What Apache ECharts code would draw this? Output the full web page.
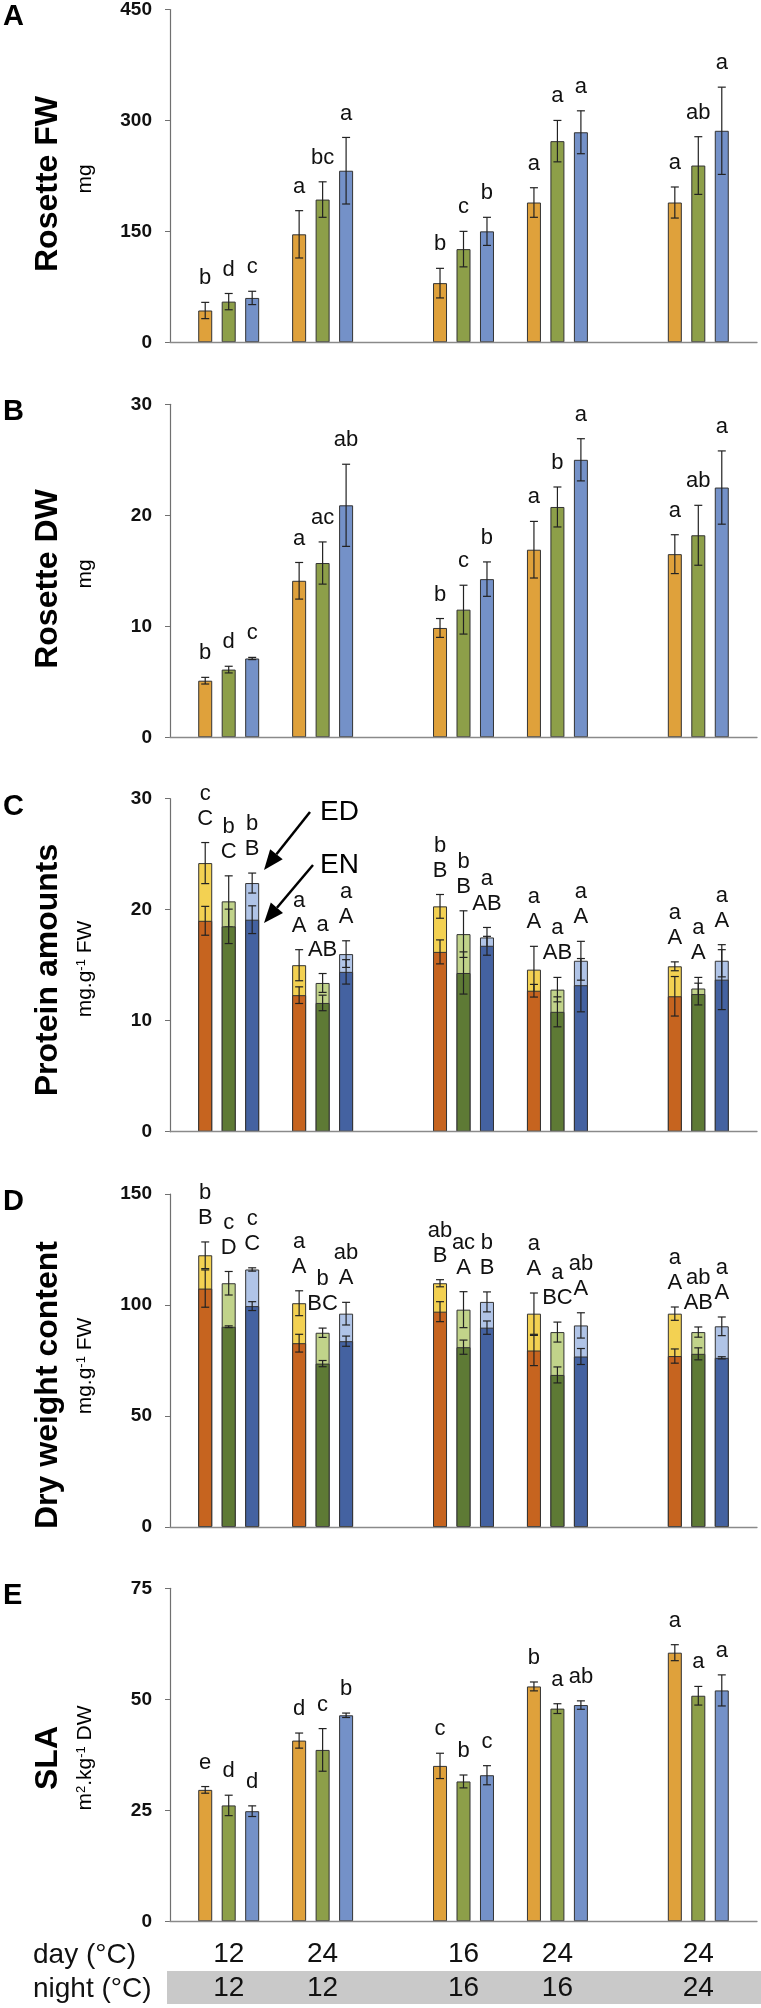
<!DOCTYPE html>
<html><head><meta charset="utf-8">
<script src="https://cdn.jsdelivr.net/npm/echarts@6/dist/echarts.min.js"></script>
<style>html,body{margin:0;padding:0;background:#fff}#c{width:761px;height:2008px}</style>
</head><body><div id="c"></div><script>
// ---------- data ----------
const conditions = ['12/12', '24/12', '16/16', '24/16', '24/24'];
const dayTemps = ['12', '24', '16', '24', '24'];
const nightTemps = ['12', '12', '16', '16', '24'];

// A: Rosette FW (mg)
const fwOrange = [43, 146, 80, 189, 189];
const fwOrangeSd = [11, 32, 20, 20, 21];
const fwGreen = [55, 193, 126, 272, 239];
const fwGreenSd = [11, 24, 24, 28, 39];
const fwBlue = [60, 232, 150, 284, 286];
const fwBlueSd = [9, 45, 19, 29, 59];
const fwLetOrange = ['b', 'a', 'b', 'a', 'a'];
const fwLetGreen = ['d', 'bc', 'c', 'a', 'ab'];
const fwLetBlue = ['c', 'a', 'b', 'a', 'a'];

// B: Rosette DW (mg)
const dwOrange = [5.1, 14.1, 9.85, 16.9, 16.5];
const dwOrangeSd = [0.3, 1.65, 0.85, 2.55, 1.75];
const dwGreen = [6.1, 15.7, 11.5, 20.75, 18.2];
const dwGreenSd = [0.3, 1.9, 2.2, 1.8, 2.7];
const dwBlue = [7.1, 20.9, 14.25, 25.0, 22.5];
const dwBlueSd = [0.1, 3.7, 1.55, 1.9, 3.3];
const dwLetOrange = ['b', 'a', 'b', 'a', 'a'];
const dwLetGreen = ['d', 'ac', 'c', 'b', 'ab'];
const dwLetBlue = ['c', 'ab', 'b', 'a', 'a'];

// C: Protein amounts (mg.g-1 FW), ED and EN
const protEdOrange = [24.2, 15.0, 20.3, 14.6, 14.9];
const protEdOrangeSd = [1.85, 1.4, 1.07, 2.1, 0.4];
const protEdGreen = [20.75, 13.4, 17.8, 12.8, 12.9];
const protEdGreenSd = [2.3, 0.85, 2.1, 1.1, 1.0];
const protEdBlue = [22.4, 16.0, 17.5, 15.4, 15.4];
const protEdBlueSd = [0.9, 1.2, 0.9, 1.75, 1.45];
const protEnOrange = [19.0, 12.3, 16.2, 12.7, 12.2];
const protEnOrangeSd = [1.3, 0.75, 1.08, 0.57, 1.78];
const protEnGreen = [18.5, 11.6, 14.3, 10.8, 12.4];
const protEnGreenSd = [1.55, 0.7, 1.9, 1.35, 0.98];
const protEnBlue = [19.1, 14.4, 16.75, 13.2, 13.7];
const protEnBlueSd = [1.25, 1.1, 0.85, 2.4, 2.7];
const protLetEdOrange = ['c', 'a', 'b', 'a', 'a'];
const protLetEdGreen = ['b', 'a', 'b', 'a', 'a'];
const protLetEdBlue = ['b', 'a', 'a', 'a', 'a'];
const protLetEnOrange = ['C', 'A', 'B', 'A', 'A'];
const protLetEnGreen = ['C', 'AB', 'B', 'AB', 'A'];
const protLetEnBlue = ['B', 'A', 'AB', 'A', 'A'];

// D: Dry weight content (mg.g-1 FW), ED and EN
const dwcEdOrange = [122.4, 100.8, 109.8, 96.1, 96.1];
const dwcEdOrangeSd = [6, 5.6, 1.6, 9.3, 3];
const dwcEdGreen = [109.8, 87.5, 97.9, 87.8, 87.8];
const dwcEdGreenSd = [5.3, 2.1, 8.1, 4.5, 2.3];
const dwcEdBlue = [116.0, 96.1, 101.4, 90.8, 90.4];
const dwcEdBlueSd = [0.75, 5.1, 4.5, 5.7, 4.2];
const dwcEnOrange = [107.4, 82.8, 97.0, 79.5, 77.0];
const dwcEnOrangeSd = [8.4, 4, 4.5, 6.8, 3.2];
const dwcEnGreen = [90.2, 73.6, 81.0, 68.5, 78.0];
const dwcEnGreenSd = [0.4, 1.4, 3.2, 3.6, 2.7];
const dwcEnBlue = [99.5, 83.7, 89.8, 76.8, 76.2];
const dwcEnBlueSd = [2, 2.3, 3, 3.6, 0.5];
const dwcLetEdOrange = ['b', 'a', 'ab', 'a', 'a'];
const dwcLetEdGreen = ['c', 'b', 'ac', 'a', 'ab'];
const dwcLetEdBlue = ['c', 'ab', 'b', 'ab', 'a'];
const dwcLetEnOrange = ['B', 'A', 'B', 'A', 'A'];
const dwcLetEnGreen = ['D', 'BC', 'A', 'BC', 'AB'];
const dwcLetEnBlue = ['C', 'A', 'B', 'A', 'A'];

// E: SLA (m2.kg-1 DW)
const slaOrange = [29.6, 40.7, 35.0, 52.9, 60.5];
const slaOrangeSd = [0.75, 1.7, 2.85, 1.0, 1.8];
const slaGreen = [26.1, 38.6, 31.5, 47.9, 50.8];
const slaGreenSd = [2.3, 4.8, 1.45, 1.1, 2.1];
const slaBlue = [24.8, 46.4, 32.9, 48.7, 52.0];
const slaBlueSd = [1.2, 0.5, 2.15, 0.95, 3.5];
const slaLetOrange = ['e', 'd', 'c', 'b', 'a'];
const slaLetGreen = ['d', 'c', 'b', 'a', 'a'];
const slaLetBlue = ['d', 'b', 'c', 'ab', 'a'];

// ---------- layout / style ----------
const FF = '"Liberation Sans", Arial, Helvetica, sans-serif';
const colMain = ['#DFA13B', '#8D9F49', '#7491C8'];
const colLight = ['#F3D152', '#C1D38A', '#B0C4E7'];
const colDark = ['#C6641F', '#5E7A35', '#4462A1'];
const SLOT0 = [1, 5, 11, 15, 21];   // first slot of each condition group
const NSLOT = 25;
const slots = Array.from({length: NSLOT}, (_, i) => String(i));
const tops = [9.3, 404.3, 798.7, 1194, 1588.3];
const GH = 333;

const panels = [
  {single: true, max: 450, interval: 150,
   vals: [fwOrange, fwGreen, fwBlue], sds: [fwOrangeSd, fwGreenSd, fwBlueSd],
   lets: [fwLetOrange, fwLetGreen, fwLetBlue]},
  {single: true, max: 30, interval: 10,
   vals: [dwOrange, dwGreen, dwBlue], sds: [dwOrangeSd, dwGreenSd, dwBlueSd],
   lets: [dwLetOrange, dwLetGreen, dwLetBlue]},
  {single: false, max: 30, interval: 10,
   ed: [protEdOrange, protEdGreen, protEdBlue], edSd: [protEdOrangeSd, protEdGreenSd, protEdBlueSd],
   en: [protEnOrange, protEnGreen, protEnBlue], enSd: [protEnOrangeSd, protEnGreenSd, protEnBlueSd],
   letsLo: [protLetEdOrange, protLetEdGreen, protLetEdBlue], letsUp: [protLetEnOrange, protLetEnGreen, protLetEnBlue]},
  {single: false, max: 150, interval: 50,
   ed: [dwcEdOrange, dwcEdGreen, dwcEdBlue], edSd: [dwcEdOrangeSd, dwcEdGreenSd, dwcEdBlueSd],
   en: [dwcEnOrange, dwcEnGreen, dwcEnBlue], enSd: [dwcEnOrangeSd, dwcEnGreenSd, dwcEnBlueSd],
   letsLo: [dwcLetEdOrange, dwcLetEdGreen, dwcLetEdBlue], letsUp: [dwcLetEnOrange, dwcLetEnGreen, dwcLetEnBlue]},
  {single: true, max: 75, interval: 25,
   vals: [slaOrange, slaGreen, slaBlue], sds: [slaOrangeSd, slaGreenSd, slaBlueSd],
   lets: [slaLetOrange, slaLetGreen, slaLetBlue]}
];

function slotData(vals, k) {
  const d = new Array(NSLOT).fill('-');
  vals.forEach((v, g) => { d[SLOT0[g] + k] = v; });
  return d;
}
function barSeries(p, vals, k, color, z) {
  return {type: 'bar', xAxisIndex: p, yAxisIndex: p, data: slotData(vals, k),
    barWidth: 14, barGap: '-100%', z: z, animation: false,
    itemStyle: {color: color, borderColor: '#333', borderWidth: 1}};
}
function txt(s, x, y) {
  return {type: 'text', style: {text: s, x: x, y: y, textAlign: 'center', align: 'center',
    textVerticalAlign: 'middle', verticalAlign: 'middle', fontSize: 22, fontFamily: FF, fill: '#111'}};
}
function errSeries(p, vals, sds, k, z, letLines) {
  const data = vals.map((v, g) => [SLOT0[g] + k, v, sds[g]]);
  return {type: 'custom', xAxisIndex: p, yAxisIndex: p, z: z, animation: false, clip: false,
    encode: {x: 0, y: 1}, data: data,
    renderItem: function (params, api) {
      const x = api.value(0), m = api.value(1), sd = api.value(2);
      const t = api.coord([x, m + sd]), b = api.coord([x, m - sd]);
      const cx = t[0], hw = 4;
      const st = {stroke: '#222', lineWidth: 1.2};
      const ch = [
        {type: 'line', shape: {x1: cx, y1: t[1], x2: cx, y2: b[1]}, style: st},
        {type: 'line', shape: {x1: cx - hw, y1: t[1], x2: cx + hw, y2: t[1]}, style: st},
        {type: 'line', shape: {x1: cx - hw, y1: b[1], x2: cx + hw, y2: b[1]}, style: st}
      ];
      if (letLines) {
        const g = params.dataIndex;
        const n = letLines.length;
        letLines.forEach((arr, li) => {
          ch.push(txt(arr[g], cx, t[1] - 24 - 25 * (n - 1 - li)));
        });
      }
      return {type: 'group', children: ch};
    }};
}

const grids = [], xAxes = [], yAxes = [], series = [];
panels.forEach((P, p) => {
  grids.push({left: 170, right: 4, top: tops[p], height: GH});
  xAxes.push({type: 'category', gridIndex: p, data: slots, z: 10,
    axisLine: {lineStyle: {color: '#8a8a8a', width: 1.3}}, axisTick: {show: false},
    axisLabel: p === 4 ? {
      show: true, interval: 0, margin: 16,
      formatter: function (v, i) {
        const g = SLOT0.indexOf(i - 1);
        return g >= 0 ? '{d|' + dayTemps[g] + '}\n{n|' + nightTemps[g] + '}' : '';
      },
      rich: {d: {fontSize: 28, lineHeight: 34, fontFamily: FF, color: '#111'},
             n: {fontSize: 28, lineHeight: 34, fontFamily: FF, color: '#111'}}
    } : {show: false}});
  yAxes.push({type: 'value', gridIndex: p, min: 0, max: P.max, interval: P.interval,
    axisLine: {show: true, lineStyle: {color: '#707070', width: 1.2}},
    axisTick: {show: true, length: 5, lineStyle: {color: '#707070'}},
    splitLine: {show: false},
    axisLabel: {fontFamily: FF, fontWeight: 'bold', fontSize: 19, color: '#111', margin: 18}});
  if (P.single) {
    for (let k = 0; k < 3; k++) series.push(barSeries(p, P.vals[k], k, colMain[k], 2));
    for (let k = 0; k < 3; k++) series.push(errSeries(p, P.vals[k], P.sds[k], k, 3, [P.lets[k]]));
  } else {
    for (let k = 0; k < 3; k++) series.push(barSeries(p, P.ed[k], k, colLight[k], 2));
    for (let k = 0; k < 3; k++) series.push(errSeries(p, P.ed[k], P.edSd[k], k, 3, [P.letsLo[k], P.letsUp[k]]));
    for (let k = 0; k < 3; k++) series.push(barSeries(p, P.en[k], k, colDark[k], 4));
    for (let k = 0; k < 3; k++) series.push(errSeries(p, P.en[k], P.enSd[k], k, 5, null));
  }
});

// ---------- annotations ----------
const titles = ['Rosette FW', 'Rosette DW', 'Protein amounts', 'Dry weight content', 'SLA'];
const titleY = [184, 579, 970, 1385, 1758];
const subRich = ['{n|mg}', '{n|mg}', '{n|mg.g}{s|-1}{n| FW}', '{n|mg.g}{s|-1}{n| FW}', '{n|m}{s|2}{n|.kg}{s|-1}{n| DW}'];
const subY = [179, 574, 969, 1366, 1758];
const letters = ['A', 'B', 'C', 'D', 'E'];
const G = [];
G.push({type: 'rect', z: -1, shape: {x: 167, y: 1971, width: 594, height: 33}, style: {fill: '#c9c9c9'}});
letters.forEach((L, p) => {
  G.push({type: 'text', x: 3, y: tops[p] + 8, style: {text: L, fontSize: 29, fontWeight: 'bold', fontFamily: FF,
    fill: '#000', textAlign: 'left', align: 'left', textVerticalAlign: 'middle', verticalAlign: 'middle'}});
  G.push({type: 'text', x: 48, y: titleY[p], rotation: Math.PI / 2, style: {text: titles[p], fontSize: 32,
    fontWeight: 'bold', fontFamily: FF, fill: '#000', textAlign: 'center', align: 'center',
    textVerticalAlign: 'middle', verticalAlign: 'middle'}});
  G.push({type: 'text', x: 85, y: subY[p], rotation: Math.PI / 2, style: {text: subRich[p],
    textAlign: 'center', align: 'center', textVerticalAlign: 'middle', verticalAlign: 'middle', fill: '#000',
    rich: {n: {fontSize: 21, fontFamily: FF, fill: '#000', color: '#000'},
           s: {fontSize: 13, fontFamily: FF, fill: '#000', color: '#000', verticalAlign: 'top'}}}});
});
G.push({type: 'text', x: 33, y: 1955, style: {text: 'day (°C)', fontSize: 28, fontFamily: FF, fill: '#111',
  textAlign: 'left', align: 'left', textVerticalAlign: 'middle', verticalAlign: 'middle'}});
G.push({type: 'text', x: 33, y: 1989, style: {text: 'night (°C)', fontSize: 28, fontFamily: FF, fill: '#111',
  textAlign: 'left', align: 'left', textVerticalAlign: 'middle', verticalAlign: 'middle'}});
G.push({type: 'text', x: 320, y: 812, style: {text: 'ED', fontSize: 28, fontFamily: FF, fill: '#000',
  textAlign: 'left', align: 'left', textVerticalAlign: 'middle', verticalAlign: 'middle'}});
G.push({type: 'text', x: 320, y: 865, style: {text: 'EN', fontSize: 28, fontFamily: FF, fill: '#000',
  textAlign: 'left', align: 'left', textVerticalAlign: 'middle', verticalAlign: 'middle'}});
function arrow(x1, y1, x2, y2) {
  const dx = x2 - x1, dy = y2 - y1, L = Math.hypot(dx, dy);
  const ux = dx / L, uy = dy / L, hl = 20, hw = 8;
  const bx = x2 - ux * hl, by = y2 - uy * hl;
  G.push({type: 'line', shape: {x1: x1, y1: y1, x2: bx, y2: by}, style: {stroke: '#000', lineWidth: 2.5}});
  G.push({type: 'polygon', shape: {points: [[x2, y2], [bx - uy * hw, by + ux * hw], [bx + uy * hw, by - ux * hw]]},
    style: {fill: '#000'}});
}
arrow(310, 812, 264, 870);
arrow(313, 865, 264, 923);

const chart = echarts.init(document.getElementById('c'), null, {renderer: 'canvas'});
chart.setOption({animation: false, grid: grids, xAxis: xAxes, yAxis: yAxes, series: series, graphic: {elements: G}});
</script></body></html>
